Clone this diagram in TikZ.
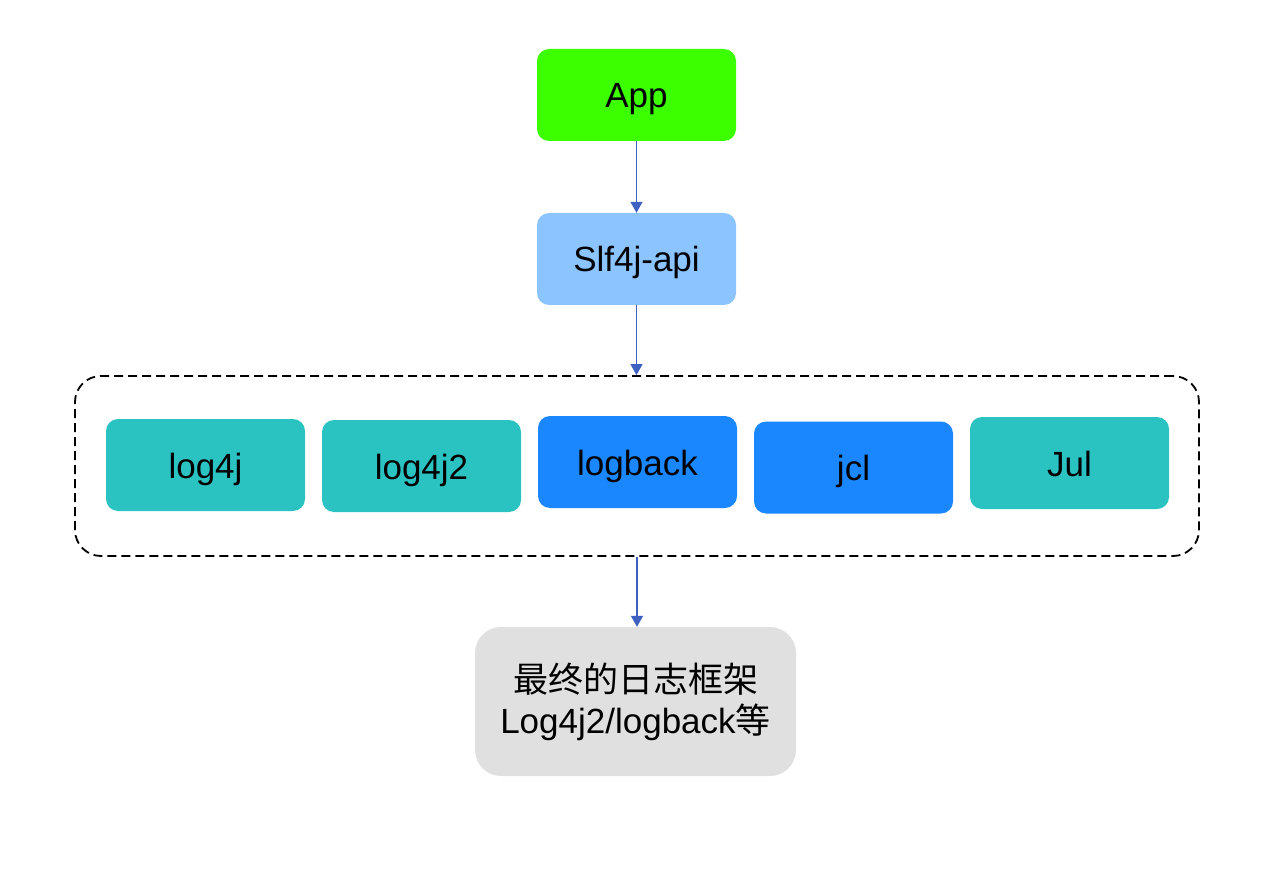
\documentclass[tikz,border=0pt]{standalone}
\usepackage{fontspec}
\setmainfont{Liberation Sans}
\newfontfamily\cjk{Noto Sans CJK SC}
\usepackage{tikz}
\usetikzlibrary{positioning}
\usetikzlibrary{arrows.meta}
\usepackage{xcolor}
\definecolor{appgreen}{HTML}{3CFF00}
\definecolor{apiblue}{HTML}{8CC4FF}
\definecolor{implteal}{HTML}{2AC3C1}
\definecolor{implblue}{HTML}{1A87FF}
\definecolor{finalgray}{HTML}{E0E0E0}
\definecolor{arrowblue}{HTML}{3E61C1}

\begin{document}
\begin{tikzpicture}[x=1pt, y=-1pt,
  main/.style = {rounded corners=12pt, minimum width=199pt, minimum height=92pt, inner sep=0pt, text height=26pt, text depth=0pt, font=\fontsize{35}{42}\selectfont},
  teal/.style = {main, fill=implteal},
  blue/.style = {main, fill=implblue},
  group/.style = {draw, dash pattern=on 9pt off 5pt, line width=1.8pt, rounded corners=26pt, minimum width=1124pt, minimum height=180pt},
  link/.style = {draw=arrowblue, line width=1.3pt, -{Triangle[width=12pt,length=11pt]}}]
\useasboundingbox (0,0) rectangle (1286,869);
\node[main, fill=appgreen] (app) at (636.5,95) {App};
\node[main, fill=apiblue] (slf) at (636.5,259) {Slf4j-api};
\node[group] (impls) at (637,466) {};
\node[teal] (log4j) at (205.5,465) {log4j};
\node[teal] (log4jtwo) at (421.5,466) {log4j2};
\node[blue] (logback) at (637.5,462) {logback};
\node[blue] (jcl) at (853.5,467.5) {jcl};
\node[teal] (jul) at (1069.5,463) {Jul};
\node[rounded corners=26pt, fill=finalgray, minimum width=321pt, minimum height=149pt, inner sep=0pt, align=center, font=\fontsize{35}{41}\selectfont] (final) at (635.5,701.5) {{\cjk 最终的日志框架}\\Log4j2/logback{\cjk 等}};
\path[link] (app.south) -- (slf.north);
\path[link] (slf.south) -- (slf.south |- impls.north);
\path[link] (impls.south) -- (impls.south |- final.north);
\end{tikzpicture}
\end{document}
